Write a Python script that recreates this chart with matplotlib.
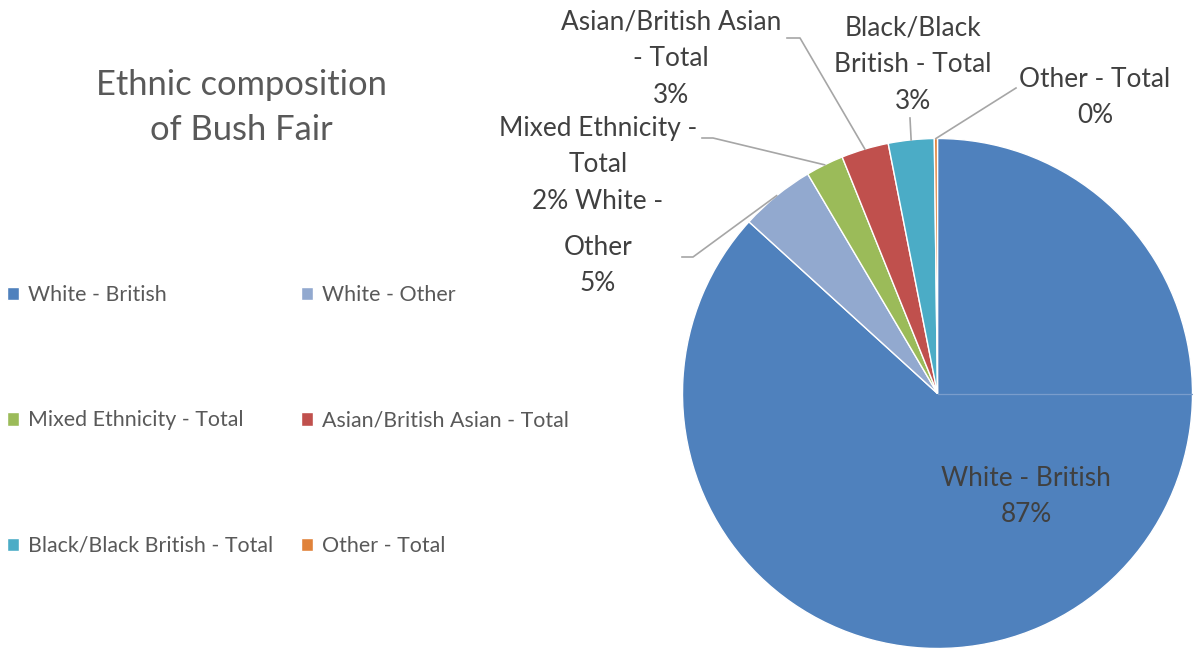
import numpy as np
import matplotlib
matplotlib.use("Agg")
import matplotlib.pyplot as plt

# ---- data ----
categories = ["White - British", "White - Other", "Mixed Ethnicity - Total",
              "Asian/British Asian - Total", "Black/Black British - Total", "Other - Total"]
shares = [86.8, 4.75, 2.4, 3.0, 2.9, 0.2]
colors = ["#4F81BD", "#92A9CF", "#9BBB59", "#C0504D", "#4BACC6", "#E0823A"]
title = "Ethnic composition\nof Bush Fair"

W, H = 1193, 653
plt.rcParams['font.family'] = ['Lato', 'DejaVu Sans']
fig = plt.figure(figsize=(W / 100, H / 100), dpi=100)
ax = fig.add_axes([0, 0, 1, 1])

def py(y):  # top-down pixel y to data y
    return H - y

cx, cy, R = 937.5, py(393.5), 255
wedges, _ = ax.pie(shares, colors=colors, startangle=90, counterclock=False,
                   center=(cx, cy), radius=R, frame=True,
                   wedgeprops=dict(edgecolor="white", linewidth=1.0))
ax.set_xlim(0, W)
ax.set_ylim(0, H)
ax.set_aspect("equal")
ax.axis("off")

# faint seam line at 3 o'clock as in the reference
ax.plot([cx, cx + R], [cy, cy], color="#7A9DCC", lw=0.9, zorder=5)

txt_col = "#404040"
lab_fs = 18.9
lab_ls = 1.58
line_col = "#A6A6A6"

def rim_point(w):
    ang = np.deg2rad((w.theta1 + w.theta2) / 2)
    return cx + R * np.cos(ang), cy + R * np.sin(ang)

# inside label for the big slice
ax.text(1026, py(496.5), f"{categories[0]}\n{shares[0]:.0f}%", ha="center", va="center",
        fontsize=lab_fs, color=txt_col, linespacing=lab_ls)

# external labels (text block center, leader-line path near the label)
ext = [
    (1, "Other\n5%", (598, 265.5), [(682, 257), (693, 257)]),
    (2, "Mixed Ethnicity -\nTotal\n2% White -", (598, 165), [(702, 138), (713, 138)]),
    (3, "Asian/British Asian\n- Total\n3%", (671, 58.5), [(787, 38), (800, 38)]),
    (4, "Black/Black\nBritish - Total\n3%", (913, 65), [(910, 118)]),
    (5, "Other - Total\n0%", (1095, 97.5), [(1016, 88)]),
]
for idx, label, (tx, ty), path in ext:
    ax.text(tx, py(ty), label, ha="center", va="center", fontsize=lab_fs,
            color=txt_col, linespacing=lab_ls)
    rx, ry = rim_point(wedges[idx])
    xs = [p[0] for p in path] + [rx]
    ys = [py(p[1]) for p in path] + [ry]
    ax.plot(xs, ys, color=line_col, lw=1.2, zorder=1)

# title
ax.text(241, py(107.5), title, ha="center", va="center", fontsize=24.8,
        color="#595959", linespacing=1.47)

# legend (row-major order like the reference)
order = [0, 2, 4, 1, 3, 5]
leg = ax.legend([wedges[i] for i in order], [categories[i] for i in order],
                ncol=2, loc="upper left",
                bbox_to_anchor=(7 / W, 1 - 285 / H), frameon=False,
                fontsize=15.4, labelcolor="#595959", handlelength=0.58,
                handleheight=0.58, handletextpad=0.4, labelspacing=4.93,
                columnspacing=1.3, borderpad=0, borderaxespad=0)

fig.savefig("out.png", dpi=100)
